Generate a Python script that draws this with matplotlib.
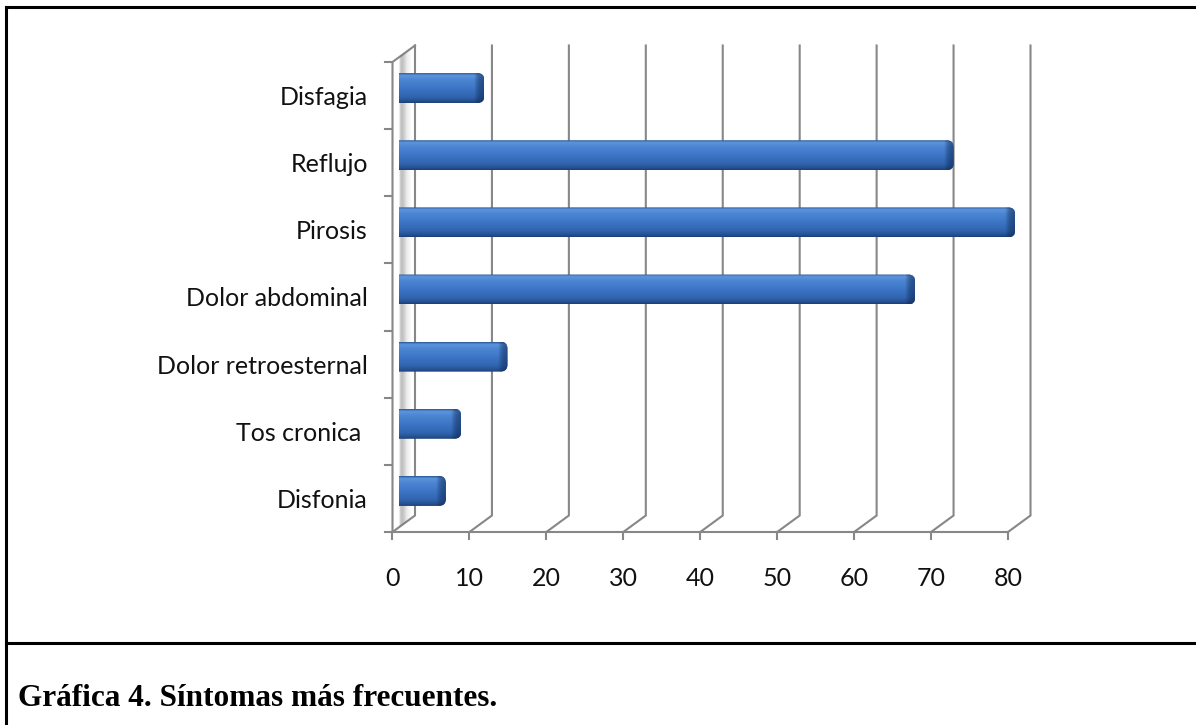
import numpy as np
import matplotlib.pyplot as plt
from matplotlib.patches import FancyBboxPatch, Polygon
from matplotlib.lines import Line2D
from matplotlib.colors import to_rgb

categories = ['Disfonia', 'Tos cronica ', 'Dolor retroesternal', 'Dolor abdominal',
              'Pirosis', 'Reflujo', 'Disfagia']
values = [5, 7, 13, 66, 79, 71, 10]
xticks = [0, 10, 20, 30, 40, 50, 60, 70, 80]
caption = 'Gráfica 4. Síntomas más frecuentes.'

W, H = 1196, 725
fig = plt.figure(figsize=(W / 100, H / 100), dpi=100)
ax = fig.add_axes([0, 0, 1, 1])
ax.set_axis_off()

# front plane of the plot area, in pixels (rows counted from the top)
X0, X1 = 392.5, 1008.0
YB, YT = 532.0, 62.0
SX = (X1 - X0) / xticks[-1]
SY = (YB - YT) / len(categories)
ax.set_xlim(-X0 / SX, (W - X0) / SX)
ax.set_ylim(-0.5 - (H - YB) / SY, -0.5 + YB / SY)

def px(n): return n / SX
def py(n): return n / SY

DX, DY = px(22.5), py(16.5)          # depth of the 3-D box
ymin, ymax = -0.5, len(categories) - 0.5
GRID = '#878787'
LW = 1.5
FONT = 'Lato'
FS = 18

# back-wall gridlines with their floor diagonals
for v in xticks:
    ax.plot([v, v + DX, v + DX], [ymin, ymin + DY, ymax + DY], color=GRID, lw=LW,
            solid_joinstyle='miter', zorder=1)
    ax.plot([v, v], [ymin, ymin - py(7)], color=GRID, lw=LW, zorder=1)
    ax.text(v, ymin - py(46), str(v), ha='center', va='center', fontsize=FS,
            family=FONT, color='#111111')

# front axes + side wall top edge
ax.plot([0, xticks[-1]], [ymin, ymin], color=GRID, lw=LW, zorder=1)
ax.plot([DX, 0, 0], [ymax + DY, ymax, ymin], color=GRID, lw=LW,
        solid_joinstyle='miter', zorder=1)
for k in range(len(categories) + 1):
    ax.plot([-px(7), 0], [ymin + k, ymin + k], color=GRID, lw=LW, zorder=1)

# soft shading on the side wall
t0, t1 = 0.30, 0.85
wall = Polygon([(t0 * DX, ymin + t0 * DY), (t1 * DX, ymin + t1 * DY),
                (t1 * DX, ymax + t1 * DY), (t0 * DX, ymax + t0 * DY)],
               closed=True, facecolor='none', edgecolor='none')
ax.add_patch(wall)
prof = np.interp(np.linspace(0, 1, 60), [0, 0.15, 0.35, 0.6, 1], [0.1, 0.45, 0.4, 0.15, 0.0])
shade = np.zeros((1, 60, 4))
shade[..., :3] = 0.45
shade[..., 3] = prof
im = ax.imshow(shade, extent=[t0 * DX, t1 * DX, ymin, ymax + DY], aspect='auto',
               interpolation='bilinear', zorder=2)
im.set_clip_path(wall)
im.set_clip_box(None)

# bars: vertical blue gradient, rounded darker end cap
stops = [(0.0, '#2b5896'), (0.07, '#5d95dd'), (0.22, '#4c85d2'), (0.5, '#3d76c6'),
         (0.8, '#3064ae'), (0.94, '#244f8d'), (1.0, '#1c3f74')]
rows = np.linspace(0, 1, 80)
body = np.zeros((80, 1, 3))
for c in range(3):
    body[:, 0, c] = np.interp(rows, [s[0] for s in stops], [to_rgb(s[1])[c] for s in stops])

bh = py(30)
bdx, bdy = px(7), py(7.5)
cap = px(8)
rad = px(7)
for i, v in enumerate(values):
    x0 = bdx
    x1 = v + bdx + cap
    y0 = i - bh / 2 + bdy
    clip = FancyBboxPatch((x0 - 3 * rad, y0), x1 - x0 + 3 * rad, bh,
                          boxstyle=f'round,pad=0,rounding_size={rad}',
                          mutation_aspect=SX / SY, facecolor='none', edgecolor='none')
    ax.add_patch(clip)
    im = ax.imshow(body, extent=[x0, x1, y0, y0 + bh], aspect='auto',
                   interpolation='bilinear', zorder=3)
    im.set_clip_path(clip)
    im.set_clip_box(None)
    end = np.zeros((1, 30, 4))
    end[..., :3] = to_rgb('#0f2a55')
    end[..., 3] = np.interp(np.linspace(0, 1, 30), [0, 0.35, 0.6, 1], [0, 0.35, 0.5, 0.6])
    im2 = ax.imshow(end, extent=[x1 - cap - px(2), x1, y0, y0 + bh], aspect='auto',
                    interpolation='bilinear', zorder=4)
    im2.set_clip_path(clip)
    im2.set_clip_box(None)

    ax.text(-px(24.5), i - py(2), categories[i], ha='right', va='center', fontsize=FS,
            family=FONT, color='#111111')

# page frame around the figure
for xs, ys in [([6, W], [7, 7]), ([6, 6], [7, H]), ([6, W], [643, 643])]:
    fig.add_artist(Line2D([x / W for x in xs], [1 - y / H for y in ys],
                          transform=fig.transFigure, color='black', lw=2.2))

fig.text(18 / W, 1 - 706 / H, caption, family='Liberation Serif', weight='bold',
         fontsize=22.5, va='baseline')

fig.savefig('out.png', dpi=100)
